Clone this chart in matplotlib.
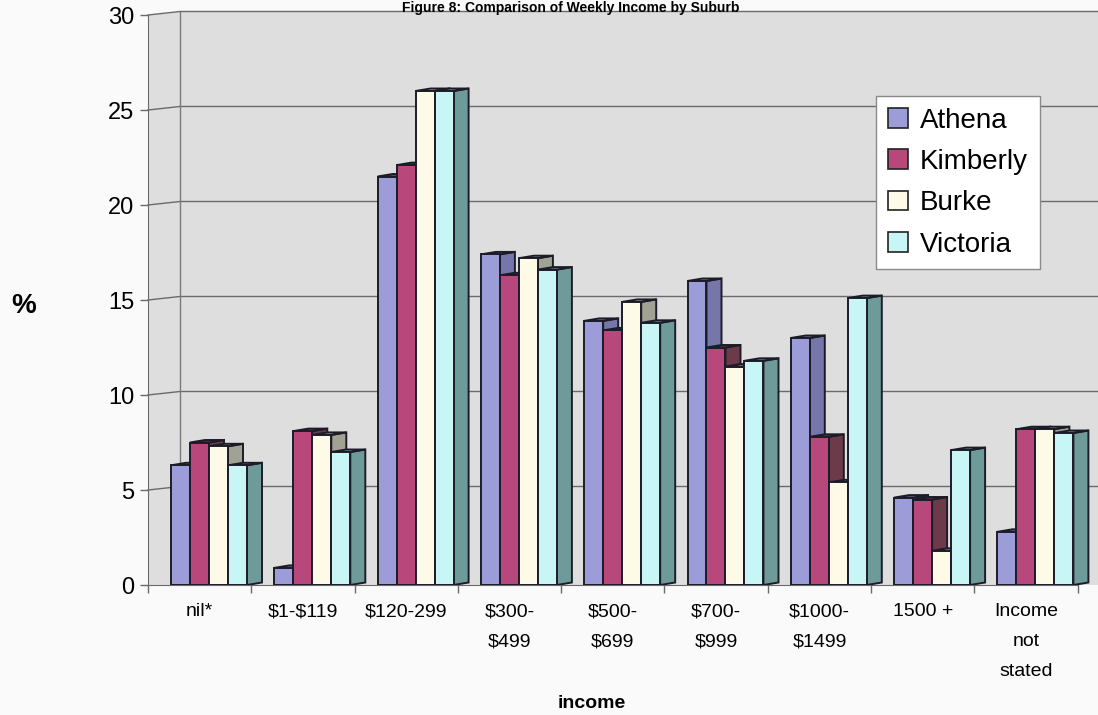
import numpy as np
import matplotlib
matplotlib.use('Agg')
import matplotlib.pyplot as plt
from matplotlib.patches import Polygon, Patch

plt.rcParams['font.family'] = ['Liberation Sans', 'DejaVu Sans']

# weekly income brackets and % share per suburb
categorias = ['nil*', '$1-$119', '$120-299', '$300-\n$499', '$500-\n$699',
              '$700-\n$999', '$1000-\n$1499', '1500 +', 'Income\nnot\nstated']
series = ['Athena', 'Kimberly', 'Burke', 'Victoria']
athena = [6.3, 0.9, 21.5, 17.4, 13.9, 16.0, 13.0, 4.6, 2.8]
kimberly = [7.5, 8.1, 22.1, 16.3, 13.4, 12.5, 7.8, 4.5, 8.2]
burke = [7.3, 7.9, 26.0, 17.2, 14.9, 11.5, 5.4, 1.8, 8.2]
victoria = [6.3, 7.0, 26.0, 16.6, 13.8, 11.8, 15.1, 7.1, 8.0]

# front face / side face colours per series
color_frente = ['#9c9cd9', '#b8487c', '#fdfbe8', '#c8f5f5']
color_lado = ['#7676aa', '#6c3a49', '#a2a294', '#6f9a9a']

W, H = 1098, 715
fig = plt.figure(figsize=(W / 100, H / 100), dpi=100, facecolor='#fafafa')

# axes box in pixels: front axis at x=148, floor at y=585, value 30 at y=15
px_cat = 103.3
px_val = 19.0
ax = fig.add_axes([148 / W, 1 - 585 / H, 950 / W, (585 - 7.4) / H])
xmax = 950 / px_cat
ax.set_xlim(0, xmax)
ax.set_ylim(0, 30.4)
ax.set_facecolor('none')

# perspective offsets (data units)
pared_dx, pared_dy = 32 / px_cat, 3.5 / px_val
barra_dx, barra_dy = 15 / px_cat, 2.5 / px_val
ancho = 19 / px_cat
desplaz = 23 / px_cat

# back wall / left wall
fondo = Polygon([(0, 0), (0, 30), (pared_dx, 30 + pared_dy), (xmax, 30 + pared_dy), (xmax, 0)],
                closed=True, facecolor='#dedede', edgecolor='none', zorder=0)
ax.add_patch(fondo)
for y in range(5, 31, 5):
    ax.plot([0, pared_dx, xmax], [y, y + pared_dy, y + pared_dy], color='#6a6a6a', lw=1.0,
            zorder=1, clip_on=False)
ax.plot([pared_dx, pared_dx], [pared_dy, 30 + pared_dy], color='#7a7a7a', lw=1.0, zorder=1)

# bars: side + top first, then front, left to right so each front hides the previous side
valores = [athena, kimberly, burke, victoria]
borde = '#1c1c28'
z = 2
for i in range(len(categorias)):
    for j, vals in enumerate(valores):
        v = vals[i]
        x0 = i + desplaz + j * ancho
        x1 = x0 + ancho
        lado = Polygon([(x1, 0), (x1 + barra_dx, barra_dy), (x1 + barra_dx, v + barra_dy), (x1, v)],
                       closed=True, facecolor=color_lado[j], edgecolor=borde, lw=1.4, zorder=z)
        tapa = Polygon([(x0, v), (x0 + barra_dx, v + barra_dy), (x1 + barra_dx, v + barra_dy), (x1, v)],
                       closed=True, facecolor=color_lado[j], edgecolor=borde, lw=1.4, zorder=z)
        frente = Polygon([(x0, 0), (x1, 0), (x1, v), (x0, v)],
                         closed=True, facecolor=color_frente[j], edgecolor=borde, lw=1.4, zorder=z + 1)
        ax.add_patch(lado)
        ax.add_patch(tapa)
        ax.add_patch(frente)
        z += 2

# axes, ticks and labels
for s in ['top', 'right']:
    ax.spines[s].set_visible(False)
ax.spines['left'].set_bounds(0, 30)
ax.spines['left'].set_color('#6a6a6a')
ax.spines['bottom'].set_color('#6a6a6a')
ax.spines['bottom'].set_bounds(0, 9)

ax.set_yticks(range(0, 31, 5))
ax.tick_params(axis='y', labelsize=17, length=6, width=1, color='#6a6a6a', pad=4)

ax.set_xticks(np.arange(10))
ax.set_xticklabels([''] * 10)
ax.set_xticks(np.arange(len(categorias)) + 0.5, minor=True)
ax.set_xticklabels([c.replace('$', r'\$') for c in categorias], minor=True, fontsize=14)
ax.tick_params(axis='x', which='major', length=6, width=1, color='#6a6a6a')
ax.tick_params(axis='x', which='minor', length=0, pad=13)
for lbl in ax.get_xticklabels(minor=True):
    lbl.set_linespacing(2.0)
    lbl.set_verticalalignment('top')

fig.text(24 / W, 1 - 306 / H, '%', fontsize=20, fontweight='bold', ha='center', va='center')
fig.text(592 / W, 1 - 704 / H, 'income', fontsize=14, fontweight='bold', ha='center', va='center')
fig.text(0.52, 1 - 1 / H, 'Figure 8: Comparison of Weekly Income by Suburb',
         fontsize=10, fontweight='bold', ha='center', va='top')

manejadores = [Patch(facecolor=c, edgecolor='#222222', lw=1.2, label=n)
               for c, n in zip(color_frente, series)]
fig.legend(handles=manejadores, loc='upper left', bbox_to_anchor=(876 / W, 1 - 96 / H),
           borderaxespad=0, fontsize=20, handlelength=0.72, handleheight=0.72,
           handletextpad=0.45, labelspacing=0.55, borderpad=0.42,
           frameon=True, fancybox=False, framealpha=1, edgecolor='#8a8a8a', facecolor='white')

fig.savefig('out.png', dpi=100, facecolor=fig.get_facecolor())
